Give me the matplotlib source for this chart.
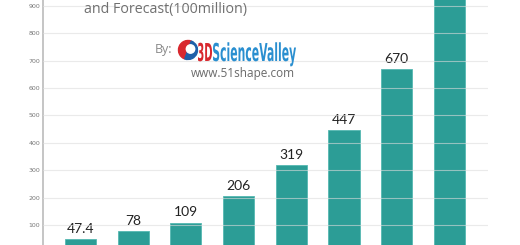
"""Bar chart of industry size and forecast (100 million)."""

import matplotlib

matplotlib.use("Agg")

import matplotlib.pyplot as plt
from matplotlib.font_manager import FontProperties
from matplotlib.patches import Circle, PathPatch, Wedge
from matplotlib.textpath import TextPath
from matplotlib.transforms import Affine2D

years = ["2012", "2013", "2014", "2015", "2016", "2017", "2018", "2019"]
values = [47.4, 78, 109, 206, 319, 447, 670, 1000]
value_labels = ["47.4", "78", "109", "206", "319", "447", "670", "1000"]
y_ticks = [100, 200, 300, 400, 500, 600, 700, 800, 900]

BAR_COLOR = "#2c9d96"
W, H = 520, 245


def squeezed_text(ax, s, x0, x1, baseline, cap, color):
    """Draw s as a path, fitted between x0 and x1 with given cap height (pixel coords, y down)."""
    tp = TextPath((0, 0), s, size=10, prop=FontProperties(family="DejaVu Sans", weight="bold"))
    ref = TextPath((0, 0), "H", size=10, prop=FontProperties(family="DejaVu Sans", weight="bold"))
    ext = tp.get_extents()
    sx = (x1 - x0) / ext.width
    sy = cap / ref.get_extents().height
    tr = Affine2D().translate(-ext.x0, 0).scale(sx, -sy).translate(x0, baseline)
    ax.add_patch(PathPatch(tr.transform_path(tp), facecolor=color, edgecolor="none"))


fig = plt.figure(figsize=(W / 100, H / 100), dpi=100)
ax = fig.add_axes([43 / W, 0, (488 - 43) / W, 1])

x = list(range(len(values)))
ax.bar(x, values, width=0.59, color=BAR_COLOR, edgecolor="#55b8b1", linewidth=0.6, zorder=2)
for xi, v, lab in zip(x, values, value_labels):
    ax.annotate(lab, (xi, v), xytext=(0, 3), textcoords="offset points", ha="center", va="bottom",
                fontsize=10, family="Lato", color="#222222", annotation_clip=True)

ax.set_xlim(-0.712, 7.733)
ax.set_ylim(27, 921)
ax.set_yticks(y_ticks)
ax.set_yticklabels([str(t) for t in y_ticks], fontsize=4.5, color="#777777")
ax.set_xticks([])
ax.tick_params(axis="y", length=0, pad=2)
for t in y_ticks:
    ax.axhline(t, color="#dcdcdc", linewidth=0.8, alpha=0.6, zorder=3)
for side in ["top", "right", "bottom"]:
    ax.spines[side].set_visible(False)
ax.spines["left"].set_color("#bbbbbb")
ax.spines["left"].set_linewidth(1.2)

fig.text(166 / W, 1 - 9 / H, "and Forecast(100million)", ha="center", va="center",
         fontsize=10.3, family="Open Sans", color="#707070")

# logo block, drawn on a pixel overlay
lax = fig.add_axes([0, 0, 1, 1])
lax.set_xlim(0, W)
lax.set_ylim(H, 0)
lax.axis("off")
lax.add_patch(Wedge((188, 50), 9.5, 110, 290, color="#d8282e"))
lax.add_patch(Wedge((188, 50), 9.5, 290, 110, color="#1f5fa8"))
lax.add_patch(Circle((190.5, 49), 4.2, color="white"))
squeezed_text(lax, "3D", 198, 212, 61, 18, "#d8282e")
squeezed_text(lax, "ScienceValley", 213, 296, 61, 18, "#2a8fd0")

fig.text(172 / W, 1 - 50 / H, "By:", ha="right", va="center", fontsize=9, family="Open Sans", color="#8a8a8a")
fig.text(243 / W, 1 - 73 / H, "www.51shape.com", ha="center", va="center", fontsize=8.5,
         family="Open Sans", color="#6a6a6a")

fig.savefig("out.png", dpi=100)
